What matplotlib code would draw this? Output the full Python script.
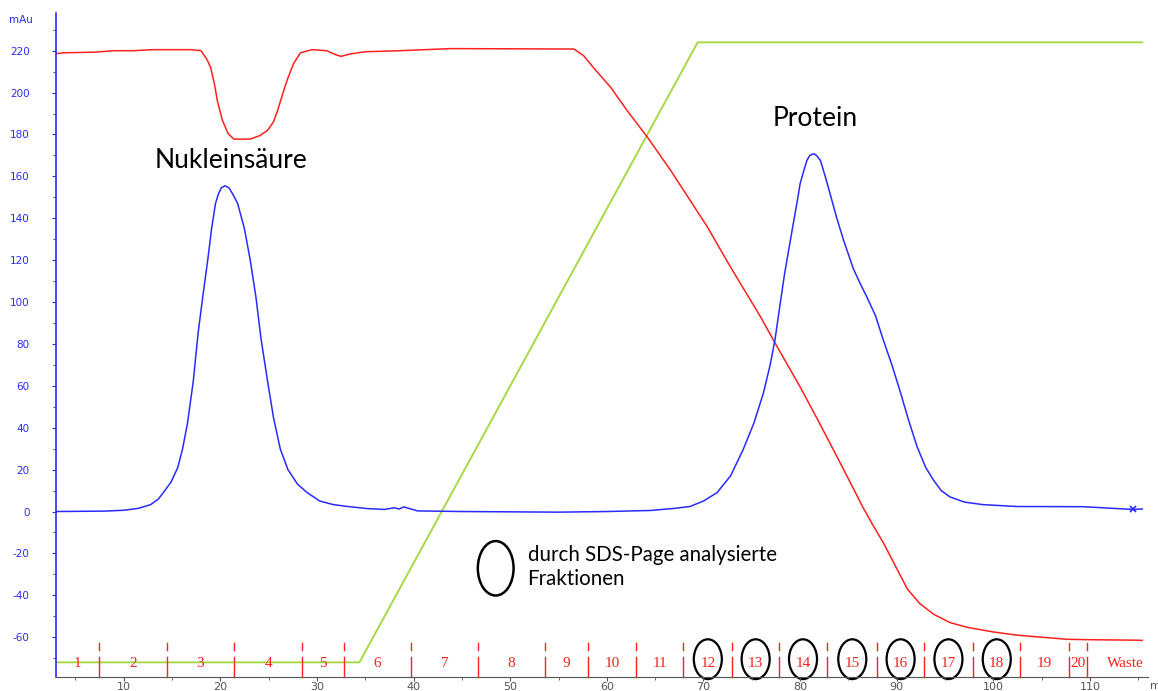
import matplotlib.pyplot as plt
from matplotlib.patches import Ellipse
from matplotlib.ticker import MultipleLocator

plt.rcParams["axes.unicode_minus"] = False

# UV absorbance (blue), conductivity-like trace (red), gradient (green); x in min, y in mAu
uv_x = [3, 8, 10, 11.5, 12.8, 13.6, 14.1, 14.9, 15.6, 16.1, 16.6, 17.2, 17.7, 18.2, 18.7,
        19.1, 19.5, 19.8, 20.1, 20.5, 20.9, 21.3, 21.8, 22.5, 23.1, 23.7, 24.2, 24.9, 25.5,
        26.2, 27.0, 28.0, 29.0, 30.3, 31.7, 33, 35.2, 37, 38, 38.5, 39, 39.5, 40.4, 45, 55,
        60, 64.5, 67, 68.6, 70, 71.4, 72.8, 74.1, 75.2, 76.2, 76.9, 77.4, 77.9, 78.4, 78.9,
        79.3, 79.7, 80.0, 80.4, 80.7, 81.0, 81.4, 81.7, 82.1, 82.6, 83.1, 83.8, 84.5, 85.5,
        86.2, 86.9, 87.8, 88.6, 89.5, 90.4, 91.2, 92.1, 93, 93.8, 94.6, 95.5, 97, 98.9,
        102.4, 109.3, 114.4, 115.4]
uv_y = [0, 0.2, 0.6, 1.5, 3.3, 6, 9, 14, 21, 30, 42, 62, 85, 103, 120,
        135, 147, 151.5, 154.5, 155.5, 154.5, 151.5, 147, 135, 120, 102, 83, 62, 45,
        30, 20, 13, 9, 5, 3.3, 2.5, 1.4, 1, 1.8, 1.2, 2.2, 1.5, 0.3, 0, -0.3,
        0, 0.5, 1.5, 2.4, 5, 9, 17, 29.5, 42, 56.5, 70, 82, 98, 113.7, 127,
        137.6, 148, 156.5, 163, 167.6, 170, 170.8, 170, 167.6, 160, 151.7, 140, 129.5, 116,
        109, 102.5, 93.5, 82, 70, 56.6, 44, 31, 21, 15, 10, 7, 4.5, 3.3,
        2.4, 2.3, 1.0, 1.2]

cond_x = [3, 3.8, 7, 9, 11, 13, 17, 18, 18.6, 19, 19.4, 19.7, 20.2, 20.8, 21.4, 23.1,
          24.1, 24.9, 25.5, 25.9, 26.5, 27, 27.6, 28.3, 29.5, 31, 32, 32.5, 33.5, 35,
          38.6, 43.8, 56.6, 57.6, 58.6, 60.4, 62.1, 64.2, 66.6, 70.4, 72.8, 75.9, 77.4,
          80, 81.8, 83.5, 85.2, 86.5, 87.6, 88.6, 91.1, 92.4, 93.8, 95.5, 97.3, 100,
          102.4, 105, 107.6, 110, 114.4, 115.4]
cond_y = [218.6, 219, 219.3, 220, 220, 220.5, 220.5, 220, 216, 212, 204, 196, 187, 180.5,
          177.8, 177.8, 179.5, 182, 186, 191, 200, 207, 214, 219, 220.5, 220, 218, 217.3,
          218.5, 219.5, 220, 221, 220.8, 217.6, 212, 202.5, 191.4, 178.7, 162.9, 135.9,
          116.7, 93, 80.5, 59.5, 44, 29, 13.8, 2, -7, -14.8, -37, -44, -49, -53, -55.3,
          -57.5, -59, -60, -61, -61.2, -61.4, -61.5]

grad_x = [3, 34.4, 69.4, 115.4]
grad_y = [-72, -72, 224, 224]

# fraction collector marks
frac_edges = [3, 7.4, 14.5, 21.4, 28.5, 32.8, 39.7, 46.7, 53.6, 58.1, 63.0, 67.9, 73.0,
              77.8, 82.8, 88.0, 92.8, 97.9, 102.8, 107.8, 109.7, 117.7]
frac_labels = [str(i) for i in range(1, 21)] + ["Waste"]
frac_sds = ["12", "13", "14", "15", "16", "17", "18"]

BLUE = "#2a2aff"
RED = "#ff2020"
GREEN = "#a8d848"

fig = plt.figure(figsize=(11.58, 6.91), dpi=100)
ax = fig.add_axes([56 / 1158, 14 / 691, 1092 / 1158, 664 / 691])

ax.plot(grad_x, grad_y, color=GREEN, lw=1.4)
ax.plot(cond_x, cond_y, color=RED, lw=1.1)
ax.plot(uv_x, uv_y, color=BLUE, lw=1.1)
ax.plot(uv_x[-2], uv_y[-2], marker="x", color=BLUE, ms=4, mew=1.2)

ax.set_xlim(3, 116)
ax.set_ylim(-79, 238)

for s in ("top", "right"):
    ax.spines[s].set_visible(False)
ax.spines["left"].set_color(BLUE)
ax.spines["left"].set_linewidth(1.2)
ax.spines["bottom"].set_color("#555555")

ax.xaxis.set_major_locator(MultipleLocator(10))
ax.xaxis.set_minor_locator(MultipleLocator(5))
ax.yaxis.set_major_locator(MultipleLocator(20))
ax.yaxis.set_minor_locator(MultipleLocator(10))
ax.tick_params(axis="y", which="both", colors=BLUE, labelsize=7.5, length=3, pad=16)
ax.tick_params(axis="y", which="minor", length=2)
ax.tick_params(axis="x", which="both", colors="#555555", labelsize=8, length=3, pad=0.5)
ax.tick_params(axis="x", which="minor", length=2)
ax.set_xticks([10, 20, 30, 40, 50, 60, 70, 80, 90, 100, 110])

ax.text(-0.032, 0.989, "mAu", transform=ax.transAxes, color=BLUE, fontsize=7.5,
        ha="center", va="center")
fig.text(1150 / 1158, 0.0, "min", color="#555555", fontsize=8, ha="left", va="bottom")

# fraction markers and labels
for e in frac_edges[1:-1]:
    ax.plot([e, e], [-63, -66], color=RED, lw=1.0, clip_on=False)
    ax.plot([e, e], [-69.5, -79], color=RED, lw=1.0, clip_on=False)
for lab, a, b in zip(frac_labels, frac_edges[:-1], frac_edges[1:]):
    xc = (a + b) / 2
    ax.text(xc, -72.5, lab, color=RED, fontsize=11, family="Liberation Serif",
            ha="center", va="center", clip_on=False)
    if lab in frac_sds:
        ax.add_patch(Ellipse((xc, -70.5), 2.9, 19, fill=False, ec="black", lw=1.6,
                             clip_on=False))

# annotations
ax.text(21.1, 167.6, "Nukleinsäure", fontsize=19, family="Lato", ha="center", va="center")
ax.text(81.6, 187.6, "Protein", fontsize=19, family="Lato", ha="center", va="center")
ax.add_patch(Ellipse((48.5, -27.1), 3.7, 26, fill=False, ec="black", lw=1.8))
ax.text(51.8, -26.5, "durch SDS-Page analysierte\nFraktionen", fontsize=14.8, family="Lato",
        ha="left", va="center", linespacing=1.25)

fig.savefig("out.png", dpi=100)
